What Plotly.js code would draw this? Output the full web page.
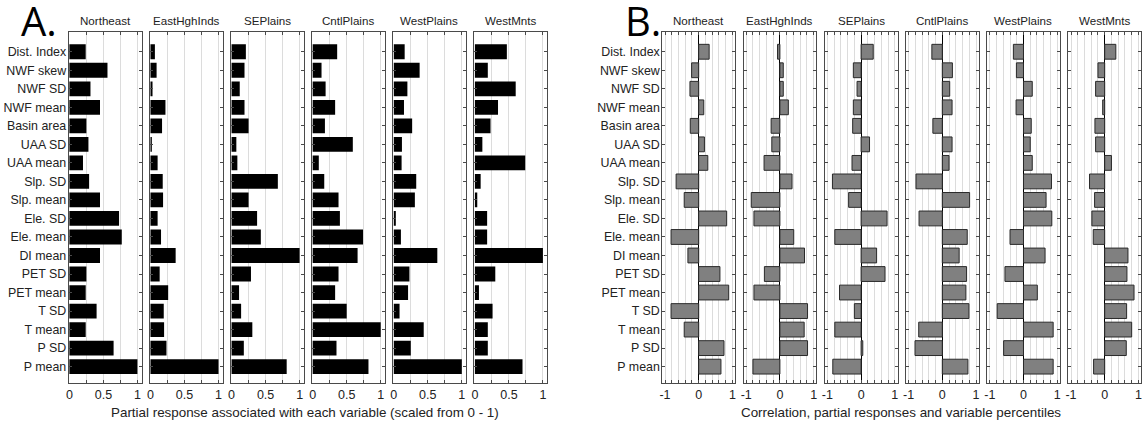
<!DOCTYPE html>
<html>
<head>
<meta charset="utf-8">
<script src="https://cdn.plot.ly/plotly-3.0.1.min.js"></script>
<style>html,body{margin:0;padding:0;background:#fff;}#chart{width:1143px;height:423px;}</style>
</head>
<body>
<div id="chart"></div>
<script>
const categories = ['Dist. Index','NWF skew','NWF SD','NWF mean','Basin area','UAA SD','UAA mean','Slp. SD','Slp. mean','Ele. SD','Ele. mean','DI mean','PET SD','PET mean','T SD','T mean','P SD','P mean'];
const regions = ['Northeast','EastHghInds','SEPlains','CntlPlains','WestPlains','WestMnts'];

// Panel A: partial response (scaled 0-1)
const partialNortheast   = [0.24,0.56,0.31,0.45,0.25,0.28,0.20,0.29,0.45,0.73,0.77,0.45,0.25,0.24,0.40,0.24,0.65,1.00];
const partialEastHghInds = [0.065,0.09,0.03,0.22,0.17,0.02,0.105,0.18,0.185,0.105,0.155,0.37,0.135,0.26,0.195,0.20,0.235,1.00];
const partialSEPlains    = [0.21,0.19,0.12,0.19,0.25,0.07,0.085,0.68,0.25,0.375,0.43,1.00,0.285,0.11,0.14,0.305,0.18,0.81];
const partialCntlPlains  = [0.36,0.13,0.19,0.33,0.18,0.59,0.09,0.17,0.38,0.40,0.74,0.66,0.38,0.33,0.50,1.00,0.35,0.82];
const partialWestPlains  = [0.16,0.38,0.20,0.15,0.27,0.12,0.115,0.33,0.31,0.03,0.105,0.64,0.23,0.21,0.085,0.44,0.25,1.00];
const partialWestMnts    = [0.47,0.19,0.60,0.34,0.23,0.11,0.74,0.085,0.035,0.18,0.18,1.00,0.30,0.06,0.26,0.19,0.19,0.70];

// Panel B: correlation
const corrNortheast   = [0.31,-0.21,-0.26,0.15,-0.25,0.17,0.27,-0.67,-0.43,0.83,-0.82,-0.32,0.63,0.89,-0.82,-0.43,0.75,0.66];
const corrEastHghInds = [-0.07,0.10,0.10,0.25,-0.26,-0.24,-0.47,0.36,-0.85,-0.77,0.41,0.73,-0.46,-0.77,0.82,0.72,0.82,-0.80];
const corrSEPlains    = [0.36,-0.23,-0.12,-0.23,-0.25,0.25,-0.27,-0.85,-0.37,0.77,-0.78,0.46,0.71,-0.64,-0.20,-0.78,0.05,-0.84];
const corrCntlPlains  = [-0.31,0.30,0.22,0.29,-0.28,0.29,0.20,-0.78,0.81,-0.69,0.74,0.50,0.72,0.70,0.79,-0.70,-0.81,0.76];
const corrWestPlains  = [-0.30,-0.21,0.26,-0.22,0.23,0.20,0.26,0.83,0.67,0.84,-0.40,0.64,-0.55,0.41,-0.78,0.88,-0.59,0.88];
const corrWestMnts    = [0.33,-0.20,-0.27,-0.06,-0.29,-0.27,0.20,-0.45,-0.30,-0.38,-0.34,0.69,0.66,0.87,0.65,0.80,0.64,-0.33];

const tickValsA = [0,0.25,0.5,0.75,1];
const tickTextA = ['0','','0.5','','1'];
const tickValsB = [-1,-0.8,-0.6,-0.4,-0.2,0,0.2,0.4,0.6,0.8,1];
const tickTextB = ['-1','','','','','0','','','','','1'];

const titleA = 'Partial response associated with each variable (scaled from 0 - 1)';
const titleB = 'Correlation, partial responses and variable percentiles';

const partialSeries = [partialNortheast,partialEastHghInds,partialSEPlains,partialCntlPlains,partialWestPlains,partialWestMnts];
const corrSeries = [corrNortheast,corrEastHghInds,corrSEPlains,corrCntlPlains,corrWestPlains,corrWestMnts];

const W = 1143, H = 423;
const FONT = 'Liberation Sans, Arial, sans-serif';
const frameColor = '#4a4a4a';
const yTop = 32.3, yBot = 383.3;
const yDomain = [1 - yBot / H, 1 - yTop / H];
const panelW = 72.8, stepA = 81.1, stepB = 81.2, startA = 68.7, startB = 662.3;

const traces = [];
const layout = {
  width: W, height: H, autosize: false,
  margin: {l: 0, r: 0, t: 0, b: 0},
  paper_bgcolor: '#fff', plot_bgcolor: '#fff',
  showlegend: false,
  font: {family: FONT, size: 12, color: '#222'},
  annotations: [],
  bargap: 0.2
};

function addPanel(k, x0, series, isB, showLabels, regionName) {
  const xs = k === 1 ? 'x' : 'x' + k;
  const ys = k === 1 ? 'y' : 'y' + k;
  const xk = k === 1 ? 'xaxis' : 'xaxis' + k;
  const yk = k === 1 ? 'yaxis' : 'yaxis' + k;
  traces.push({
    type: 'bar', orientation: 'h',
    x: series, y: categories,
    xaxis: xs, yaxis: ys,
    width: 0.8,
    marker: isB ? {color: '#808080', line: {color: '#2a2a2a', width: 1}} : {color: '#000', line: {width: 0}},
    hoverinfo: 'skip'
  });
  layout[xk] = {
    domain: [x0 / W, (x0 + panelW) / W],
    anchor: ys,
    range: isB ? [-1.08, 1.08] : [-0.01, 1.06],
    tickmode: 'array',
    tickvals: isB ? tickValsB : tickValsA,
    ticktext: isB ? tickTextB : tickTextA,
    showgrid: true, gridcolor: '#dcdcdc', gridwidth: 1,
    zeroline: isB, zerolinecolor: '#000', zerolinewidth: 1,
    showline: true, linecolor: frameColor, linewidth: 1, mirror: 'ticks',
    ticks: 'inside', ticklen: 3, tickcolor: frameColor,
    tickfont: {family: FONT, size: 12.5, color: '#222'},
    fixedrange: true
  };
  layout[yk] = {
    domain: yDomain,
    anchor: xs,
    type: 'category',
    categoryorder: 'array', categoryarray: categories,
    range: [17.9, -1.05],
    showgrid: false, zeroline: false,
    showline: true, linecolor: frameColor, linewidth: 1, mirror: 'ticks',
    ticks: 'inside', ticklen: 3, tickcolor: frameColor,
    showticklabels: showLabels,
    ticklabelstandoff: -1,
    tickfont: {family: FONT, size: 12.4, color: '#222'},
    fixedrange: true
  };
  layout.annotations.push({
    xref: 'paper', yref: 'paper',
    x: (x0 + panelW / 2) / W, y: 1 - 20.7 / H,
    xanchor: 'center', yanchor: 'middle',
    text: regionName, showarrow: false,
    font: {family: FONT, size: 11.6, color: '#222'}
  });
}

for (let i = 0; i < 6; i++) {
  addPanel(i + 1, startA + i * stepA, partialSeries[i], false, i === 0, regions[i]);
}
for (let i = 0; i < 6; i++) {
  addPanel(i + 7, startB + i * stepB, corrSeries[i], true, i === 0, regions[i]);
}

layout.annotations.push({
  xref: 'paper', yref: 'paper', x: 305 / W, y: 1 - 412 / H,
  xanchor: 'center', yanchor: 'middle', showarrow: false,
  text: titleA, font: {family: FONT, size: 13.4, color: '#222'}
});
layout.annotations.push({
  xref: 'paper', yref: 'paper', x: 901 / W, y: 1 - 412 / H,
  xanchor: 'center', yanchor: 'middle', showarrow: false,
  text: titleB, font: {family: FONT, size: 13.4, color: '#222'}
});
layout.annotations.push({
  xref: 'paper', yref: 'paper', x: 20 / W, y: 1 + 8 / H,
  xanchor: 'left', yanchor: 'top', showarrow: false, borderpad: 0,
  text: 'A.', font: {family: 'Open Sans, Liberation Sans, sans-serif', size: 40, color: '#000'}
});
layout.annotations.push({
  xref: 'paper', yref: 'paper', x: 624 / W, y: 1 + 8 / H,
  xanchor: 'left', yanchor: 'top', showarrow: false, borderpad: 0,
  text: 'B.', font: {family: 'Open Sans, Liberation Sans, sans-serif', size: 40, color: '#000'}
});

Plotly.newPlot('chart', traces, layout, {staticPlot: true, displayModeBar: false});
</script>
</body>
</html>
